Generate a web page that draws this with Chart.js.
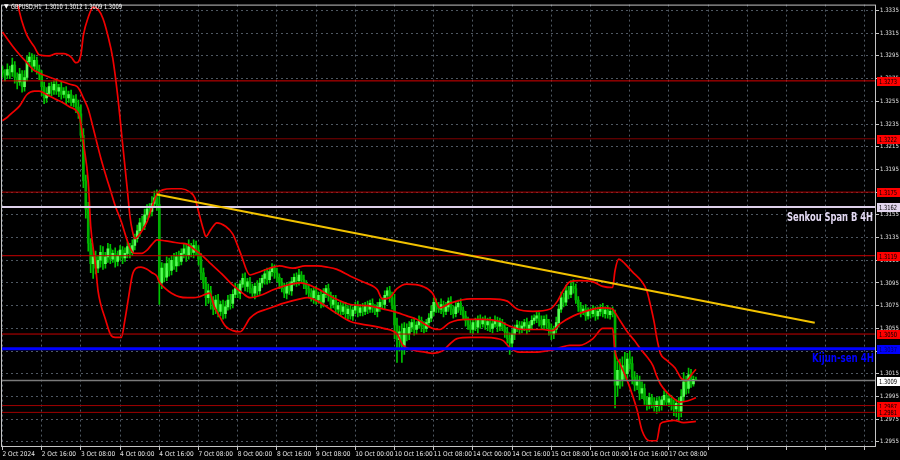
<!DOCTYPE html>
<html>
<head>
<meta charset="utf-8">
<title>GBPUSD H1</title>
<script src="https://cdn.jsdelivr.net/npm/chart.js@4.4.1/dist/chart.umd.min.js"></script>
<style>
  html, body { margin: 0; padding: 0; background: #000; }
  #chart { display: block; }
</style>
</head>
<body>
<canvas id="chart" width="900" height="460"></canvas>
<script>
// all prices below are pips above 1.3000 (e.g. 280 = 1.3280)
const BASE = 1.3;

const firstOpen = 282;
const closes = [
  280, 278, 283, 281, 287, 276, 272, 279, 268, 276, 290, 294, 286, 291, 283, 279,
  268, 258, 262, 268, 265, 270, 264, 267, 261, 264, 258, 261, 254, 257, 250, 244,
  225, 185, 160, 130, 112, 118, 108, 115, 122, 112, 118, 125, 116, 121, 114, 119,
  124, 117, 121, 127, 122, 128, 134, 141, 148, 145, 155, 160, 158, 165, 170, 164,
  95, 108, 100, 112, 106, 115, 110, 118, 114, 121, 125, 119, 127, 122, 128, 124,
  116, 104, 95, 82, 88, 78, 72, 80, 70, 76, 68, 74, 80, 77, 85, 90,
  86, 94, 99, 92, 96, 90, 86, 92, 88, 95, 99, 103, 98, 105, 108, 104,
  100, 95, 90, 86, 92, 88, 96, 100, 97, 102, 98, 94, 90, 86, 82, 88,
  80, 84, 78, 85, 90, 84, 76, 80, 72, 75, 70, 74, 68, 72, 66, 71,
  75, 69, 73, 70, 75, 72, 77, 73, 70, 74, 78, 76, 84, 88, 82, 75,
  58, 45, 52, 40, 55, 50, 56, 60, 54, 58, 62, 57, 55, 60, 64, 70,
  78, 74, 72, 76, 70, 74, 79, 72, 68, 74, 77, 71, 66, 62, 58, 54,
  60, 56, 63, 59, 62, 58, 61, 55, 59, 62, 57, 60, 56, 52, 46, 42,
  50, 55, 58, 54, 57, 60, 55, 58, 62, 64, 66, 62, 58, 63, 60, 55,
  50, 54, 60, 72, 82, 78, 88, 85, 92, 90, 80, 74, 70, 72, 66, 70,
  68, 71, 66, 70, 73, 68, 71, 67, 70, 68, 5, 18, 10, 22, 15, 28,
  24, 12, 5, 8, -2, 2, -8, -12, -6, -10, -14, -9, -13, -8, -4, -10,
  -7, -12, -16, -11, -18, -5, 8, 2, 14, 6, 10, 9
];
const upWick = [
  4,3,5,3,6,3,4,5,3,6,5,4,3,5,3,4,
  3,4,5,3,4,3,4,3,5,3,4,3,4,3,4,6,
  8,6,5,6,4,8,5,4,6,5,4,5,4,3,5,4,
  4,3,5,4,3,5,4,5,4,6,5,4,5,6,6,7,
  12,5,4,6,5,4,6,4,5,4,5,4,6,3,5,4,
  4,5,4,5,6,4,5,4,5,3,4,5,4,5,4,5,
  4,3,4,5,3,4,4,3,5,4,3,4,5,3,4,3,
  4,3,4,5,3,4,4,3,4,5,3,4,3,4,4,3,
  4,3,4,5,3,4,3,4,4,3,4,3,4,3,4,3,
  3,4,3,4,3,4,3,4,3,4,3,4,4,3,4,5,
  10,6,5,7,5,4,5,3,4,3,4,3,4,3,4,5,
  4,3,4,5,3,4,3,4,3,4,3,4,3,4,3,4,
  3,4,3,4,3,4,3,4,3,4,3,4,3,4,4,5,
  4,3,4,3,4,3,4,3,4,3,4,3,4,3,4,3,
  4,3,5,4,5,4,5,4,5,6,4,3,4,3,4,3,
  3,4,3,4,3,4,3,4,3,4,3,8,10,8,12,5,
  7,6,5,6,5,6,4,3,4,3,4,3,4,3,4,3,
  4,3,4,3,5,6,8,5,6,5,3,2
];
const downWick = [
  4,5,3,6,4,5,6,3,5,4,3,4,5,3,4,5,
  8,5,4,3,5,4,3,5,4,3,5,4,3,4,5,4,
  5,6,8,7,8,13,5,4,6,5,4,5,4,3,5,4,
  4,5,3,4,5,3,4,3,5,4,3,4,5,4,3,5,
  19,5,4,3,5,4,3,5,4,3,4,5,3,4,5,4,
  5,6,5,7,5,6,5,4,5,4,5,4,3,5,4,3,
  4,5,3,4,5,4,3,5,4,3,4,5,4,3,4,5,
  4,5,3,4,5,3,4,3,5,4,3,4,5,4,3,5,
  4,3,5,4,3,5,4,3,4,5,4,3,4,5,3,4,
  3,4,3,4,3,4,3,4,3,5,4,3,4,3,4,3,
  12,20,10,15,8,6,5,4,5,4,3,5,4,3,4,3,
  4,5,3,4,5,3,4,5,4,3,5,4,3,5,4,3,
  4,3,5,4,3,4,5,3,4,3,5,4,3,5,4,10,
  4,5,3,4,3,4,5,3,4,3,4,5,3,4,5,6,
  5,4,3,4,3,4,3,4,3,4,3,4,5,3,4,3,
  4,3,4,3,4,3,4,3,4,3,20,10,8,6,5,4,
  5,6,5,4,6,5,4,5,4,5,4,6,5,4,5,3,
  4,5,6,7,8,5,4,5,4,3,2,0
];

// Bollinger-type red curves, [bar index, pips]
const bbUpper = [[0,372],[3,354],[6,341],[8,325],[10,313],[13,303],[15,296],[19,295],[22,297],[25,297],[28,294],[30,289],[32,296],[33,313],[35,329],[37,338],[39,336],[41,328],[43,313],[45,293],[47,260],[49,218],[51,176],[52,154],[53,141],[54,134],[56,138],[59,149],[61,162],[63,173],[65.5,177],[69,178],[73,178],[76.5,175],[78.5,170],[80,158],[82,142],[83,136],[85,142],[87.5,148],[91,145],[94,138],[97,122],[101,102],[104,104],[109,108],[113,110],[118.5,108],[123.5,110],[128.5,110],[132.5,109],[136.5,107],[142,101],[147,96],[153,89],[155,81],[158,82],[161,90],[165,94],[171.5,92],[175.5,86],[178.5,73],[182.5,77],[191,81],[199,81],[206,79],[210,72],[216.5,70],[223.5,72],[226.5,79],[229,89],[231.5,96],[235.5,97],[241,96],[245,92],[249,91],[250,106],[251.5,116],[254,112],[257,105],[261,96],[263,88],[264.5,75],[266,60],[267,47],[268.5,33],[271,27],[274.5,20],[277,11],[279,9],[281.5,15],[283,19]];
const bbMiddle = [[0,316],[2,310],[4,304],[7,296],[10,289],[12.5,283],[15,280],[19.5,276],[23.5,273],[27.5,270],[30.5,268],[31.5,265],[33,258],[35,248],[36.5,236],[38,223],[40,206],[42,191],[44,177],[46,163],[48.5,149],[50.5,135],[52,126],[54,121],[56.5,121],[59,124],[61,129],[63,133],[66.5,132],[69.5,131],[72.5,130],[75.5,129],[78,125],[80.5,121],[84.5,113],[89.5,103],[94,93],[98,86],[101,82],[106.5,85],[110.5,89],[114.5,92],[121.5,95],[128.5,90],[135,82],[142,76],[149,75],[155.5,72],[159.5,70],[165,66],[169,63],[175.5,55],[178.5,54],[182.5,60],[189.5,63],[196,63],[203,61],[207,57],[212.5,54],[220.5,54],[224.5,53],[227.5,59],[233,66],[238,70],[241,72],[245,73],[249,72],[250,69],[252,62],[255,52],[258,44],[260,38],[263,30],[265.5,22],[267,13],[268.5,6],[271,-1],[273.5,-6],[276.5,-10],[279.5,-9],[282,-7],[283,-6]];
const bbLower = [[0,238],[2,241],[4,245],[7,251],[10,261],[13,264],[15,264],[18,261],[21.5,257],[24.5,254],[27.5,250],[30,247],[31.5,241],[33,219],[35,184],[36,145],[38,110],[39,88],[40,77],[42,63],[44,50],[46,47],[48.5,47],[50,63],[51.5,83],[53,102],[54.5,108],[56.5,109],[59,107],[61,104],[63,101],[64,96],[66.5,90],[69,86],[72,83],[75.5,82],[78,82],[80.5,83],[84.5,86],[86.5,74],[88.5,66],[91,57],[94,53],[97,52],[101,64],[104,69],[108,72],[114.5,77],[121.5,81],[124.5,82],[128.5,79],[136.5,68],[142,61],[146,59],[155.5,55],[161,50],[163.5,40],[167.5,36],[172.5,34],[175.5,33],[179.5,35],[182.5,41],[185.5,46],[191,47],[196,47],[202,46],[204.5,44],[207,38],[211,34],[216.5,34],[221.5,35],[224.5,36],[227.5,38],[231.5,40],[235.5,40],[241,46],[245,55],[249,55],[250,35],[252,24],[255,9],[259,-17],[261,-35],[264,-44],[267,-44],[268.5,-29],[271,-27],[274,-26],[278,-28],[283,-27]];

const trendBars = [63, 331.5];
const trendPips = [173, 60];

const levelPrices = [1.3273, 1.3222, 1.3175, 1.3119, 1.3050, 1.2987, 1.2981];
const senkouB = 1.3162;
const kijun = 1.3037;
const lastPrice = 1.3009;
const headerOHLC = [1.3010, 1.3012, 1.3009, 1.3009];

const tickBars = [0,16,32,48,64,80,96,112,128,144,160,176,192,208,224,240,256,272,288,304,320,336,352];
const tickLabels = ['2 Oct 2024','2 Oct 16:00','3 Oct 08:00','4 Oct 00:00','4 Oct 16:00','7 Oct 08:00',
  '8 Oct 00:00','8 Oct 16:00','9 Oct 08:00','10 Oct 00:00','10 Oct 16:00','11 Oct 08:00',
  '14 Oct 00:00','14 Oct 16:00','15 Oct 08:00','16 Oct 00:00','16 Oct 16:00','17 Oct 08:00'];
const priceTicks = [1.2955, 1.2975, 1.2995, 1.3015, 1.3035, 1.3055, 1.3075, 1.3095, 1.3115, 1.3135,
  1.3155, 1.3175, 1.3195, 1.3215, 1.3235, 1.3255, 1.3275, 1.3295, 1.3315, 1.3335];

// ---- styling ----
const AXIS_FONT = "'Liberation Sans Narrow', 'DejaVu Sans Condensed', 'Liberation Sans', sans-serif";
const GRID = '#4f5862';
const UP_BODY = '#55ff55', DOWN_BODY = '#00b000', WICK = '#00c400';
const BAND_RED = '#f00000';
const levelColors = ['#d80000', '#800000', '#b00000', '#c80000', '#c80000', '#a00000', '#a00000'];
const X_MIN = -0.61, X_MAX = 356.5;
const Y_MIN = 1.29505, Y_MAX = 1.33402;

const p = v => BASE + v / 10000;
const opens = closes.map((c, i) => (i === 0 ? firstOpen : closes[i - 1]));

const hLine = (price, color, width, order) => ({
  type: 'line',
  data: [{x: X_MIN, y: price}, {x: X_MAX, y: price}],
  borderColor: color, borderWidth: width, pointRadius: 0, order: order
});
const band = pairs => ({
  type: 'line',
  data: pairs.map(([b, v]) => ({x: b, y: p(v)})),
  borderColor: BAND_RED, borderWidth: 1.7, pointRadius: 0,
  cubicInterpolationMode: 'monotone', order: 2
});

const datasets = [
  {
    type: 'line',
    data: trendBars.map((b, i) => ({x: b, y: p(trendPips[i])})),
    borderColor: '#f2c200', borderWidth: 2, pointRadius: 0, order: 0
  },
  hLine(kijun, '#0000ff', 3, 1),
  hLine(senkouB, '#ddd0ea', 2, 1),
  hLine(lastPrice, '#7a7a7a', 1.5, 1),
  ...levelPrices.map((v, i) => hLine(v, levelColors[i], 1, 1)),
  band(bbUpper),
  band(bbMiddle),
  band(bbLower),
  {
    type: 'bar',
    data: closes.map((c, i) => ({x: i, y: [p(opens[i]), p(c)]})),
    backgroundColor: closes.map((c, i) => (c >= opens[i] ? UP_BODY : DOWN_BODY)),
    barThickness: 2, minBarLength: 1, grouped: false, order: 3
  },
  {
    type: 'bar',
    data: closes.map((c, i) => ({
      x: i,
      y: [p(Math.min(opens[i], c) - downWick[i]), p(Math.max(opens[i], c) + upWick[i])]
    })),
    backgroundColor: WICK, barThickness: 1, grouped: false, order: 4
  }
];

function fitText(ctx, text, xLeft, baseline, width, font, color) {
  ctx.save();
  ctx.font = font;
  const w = ctx.measureText(text).width;
  ctx.translate(xLeft, baseline);
  ctx.scale(width / w, 1);
  ctx.fillStyle = color;
  ctx.textAlign = 'left';
  ctx.textBaseline = 'alphabetic';
  ctx.fillText(text, 0, 0);
  ctx.restore();
}

function priceBox(ctx, yScale, right, price, fill, textColor) {
  const py = Math.round(yScale.getPixelForValue(price));
  ctx.fillStyle = fill;
  ctx.fillRect(right + 1, py - 4, 23, 9);
  fitText(ctx, price.toFixed(4), right + 3, py + 3, 18, '7px ' + AXIS_FONT, textColor);
}

const overlay = {
  id: 'overlay',
  beforeDraw(chart) {
    const ctx = chart.ctx;
    ctx.save();
    ctx.fillStyle = '#000';
    ctx.fillRect(0, 0, chart.width, chart.height);
    ctx.restore();
  },
  afterDatasetsDraw(chart) {
    const {ctx, chartArea: a} = chart;
    ctx.save();
    ctx.strokeStyle = '#c4c4c4';
    ctx.lineWidth = 1;
    ctx.strokeRect(a.left + 0.5, a.top + 0.5, a.right - a.left - 1, a.bottom - a.top - 1);
    ctx.restore();
  },
  afterDraw(chart) {
    const {ctx, chartArea: a, scales: {y}} = chart;
    ctx.save();
    levelPrices.forEach(v => priceBox(ctx, y, a.right, v, '#ff0000', '#000000'));
    priceBox(ctx, y, a.right, senkouB, '#e2d6ee', '#000000');
    priceBox(ctx, y, a.right, kijun, '#0000ff', '#000060');
    priceBox(ctx, y, a.right, lastPrice, '#ffffff', '#000000');

    // header
    ctx.fillStyle = '#ffffff';
    ctx.font = '6px DejaVu Sans';
    ctx.textBaseline = 'alphabetic';
    ctx.fillText('\u25BC', 4, 8);
    fitText(ctx, 'GBPUSD,H1  ' + headerOHLC.map(v => v.toFixed(4)).join(' '),
      11, 8.5, 111, '7px ' + AXIS_FONT, '#ffffff');

    // line captions
    const capFont = 'bold 13px ' + AXIS_FONT;
    fitText(ctx, 'Senkou Span B 4H', 787, 220.5, 86, capFont, '#e4daf4');
    fitText(ctx, 'Kijun-sen 4H', 812, 362, 62, capFont, '#0000ff');
    ctx.restore();
  }
};

Chart.defaults.font.family = AXIS_FONT;

new Chart(document.getElementById('chart'), {
  type: 'bar',
  data: {datasets: datasets},
  options: {
    responsive: false,
    animation: false,
    devicePixelRatio: 1,
    events: [],
    layout: {padding: {left: 1, top: 1, right: 0, bottom: 0}},
    plugins: {legend: {display: false}, tooltip: {enabled: false}},
    scales: {
      x: {
        type: 'linear', min: X_MIN, max: X_MAX, offset: false,
        afterFit: s => { s.height = 13; },
        afterBuildTicks: s => { s.ticks = tickBars.map(v => ({value: v})); },
        grid: {color: GRID, lineWidth: 1, offset: false, tickLength: 3, tickColor: '#c4c4c4'},
        border: {display: false, dash: [2, 3]},
        ticks: {
          align: 'start', maxRotation: 0, autoSkip: false, padding: 0,
          color: '#e8e8e8', font: {size: 6.5},
          callback: v => tickLabels[tickBars.indexOf(v)] || ''
        }
      },
      y: {
        type: 'linear', position: 'right', min: Y_MIN, max: Y_MAX,
        afterFit: s => { s.width = 24; },
        afterBuildTicks: s => { s.ticks = priceTicks.map(v => ({value: v})); },
        grid: {color: GRID, lineWidth: 1, tickLength: 3, tickColor: '#c4c4c4'},
        border: {display: false, dash: [2, 3]},
        ticks: {
          padding: 1, color: '#e0e0e0', font: {size: 6}, autoSkip: false,
          callback: v => v.toFixed(4)
        }
      }
    }
  },
  plugins: [overlay]
});
</script>
</body>
</html>
